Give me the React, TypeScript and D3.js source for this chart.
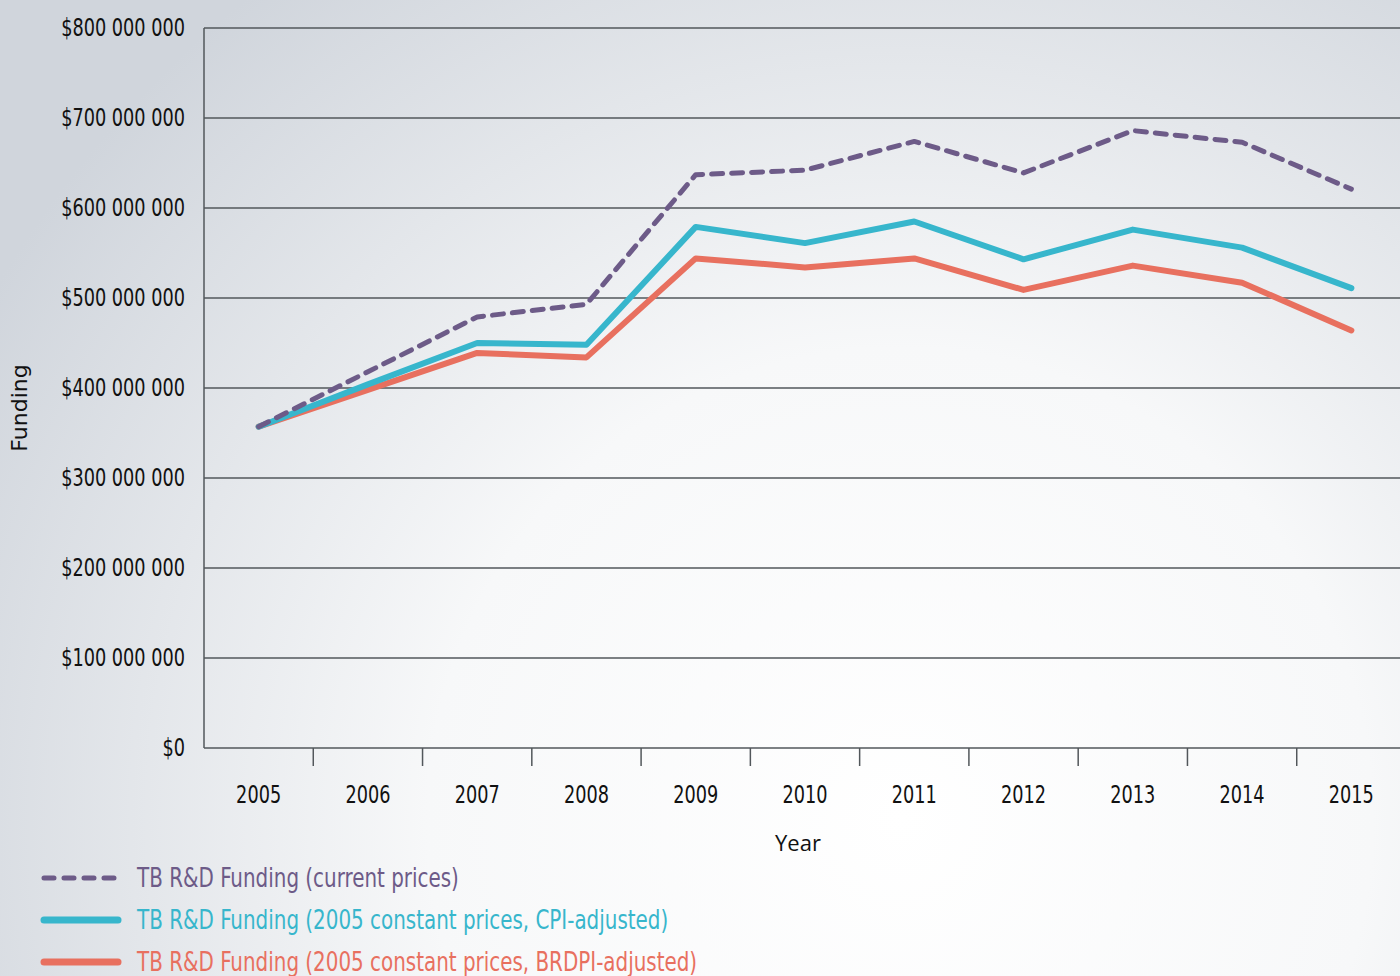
import React, { useRef, useEffect } from "react";
import * as d3 from "d3";

const years = ["2005", "2006", "2007", "2008", "2009", "2010", "2011", "2012", "2013", "2014", "2015"];
// values in millions USD
const currentPrices = [357, 418, 479, 493, 637, 642, 674, 639, 686, 673, 621];
const cpiAdjusted = [357, 404, 450, 448, 579, 561, 585, 543, 576, 556, 511];
const brdpiAdjusted = [357, 398, 439, 434, 544, 534, 544, 509, 536, 517, 464];
const yTicks = [0, 100, 200, 300, 400, 500, 600, 700, 800];

const seriesNames = [
  "TB R&D Funding (current prices)",
  "TB R&D Funding (2005 constant prices, CPI-adjusted)",
  "TB R&D Funding (2005 constant prices, BRDPI-adjusted)",
];
const seriesColors = ["#6d5b88", "#37b6cc", "#e8705f"];

const narrow = "'Liberation Sans Narrow', 'DejaVu Sans Condensed', sans-serif";
const squeeze = 0.82; // condensed look

const App = () => {
  const svgRef = useRef(null);

  useEffect(() => {
    const width = 1400;
    const height = 976;
    const margin = { top: 28, right: -6, bottom: 228, left: 204 };
    const svg = d3.select(svgRef.current);
    svg.selectAll("*").remove();

    const defs = svg.append("defs");
    const grad = defs
      .append("radialGradient")
      .attr("id", "bg")
      .attr("gradientUnits", "userSpaceOnUse")
      .attr("cx", 900)
      .attr("cy", 820)
      .attr("r", 1050);
    grad.append("stop").attr("offset", "0%").attr("stop-color", "#ffffff");
    grad.append("stop").attr("offset", "45%").attr("stop-color", "#f7f8f9");
    grad.append("stop").attr("offset", "100%").attr("stop-color", "#d0d5dc");

    svg.append("rect").attr("width", width).attr("height", height).attr("fill", "url(#bg)");

    const x = d3
      .scaleBand()
      .domain(years)
      .range([margin.left, width - margin.right]);
    const y = d3
      .scaleLinear()
      .domain([0, 800])
      .range([height - margin.bottom, margin.top]);

    // squeezed text helper
    const label = (g, tx, ty, txt, anchor, size, color) =>
      g
        .append("text")
        .attr("transform", `translate(${tx},${ty}) scale(${squeeze},1)`)
        .attr("dy", "0.35em")
        .attr("text-anchor", anchor)
        .style("font-family", narrow)
        .style("font-size", size)
        .attr("fill", color)
        .text(txt);

    // grid lines
    svg
      .append("g")
      .selectAll("line")
      .data(yTicks)
      .join("line")
      .attr("x1", margin.left)
      .attr("x2", width)
      .attr("y1", (d) => y(d))
      .attr("y2", (d) => y(d))
      .attr("stroke", "#52575b")
      .attr("stroke-width", 1.5);

    // left axis line
    svg
      .append("line")
      .attr("x1", margin.left)
      .attr("x2", margin.left)
      .attr("y1", y(800))
      .attr("y2", y(0))
      .attr("stroke", "#52575b")
      .attr("stroke-width", 1.5);

    // y tick labels
    const fmt = (d) => (d === 0 ? "$0" : "$" + d + " 000 000");
    const yg = svg.append("g");
    yTicks.forEach((d) => label(yg, 185, y(d), fmt(d), "end", "24px", "#111"));

    // x ticks between bands
    svg
      .append("g")
      .selectAll("line")
      .data(years.slice(1))
      .join("line")
      .attr("x1", (d) => x(d))
      .attr("x2", (d) => x(d))
      .attr("y1", y(0))
      .attr("y2", y(0) + 18)
      .attr("stroke", "#52575b")
      .attr("stroke-width", 1.5);

    const xg = svg.append("g");
    years.forEach((d) => label(xg, x(d) + x.bandwidth() / 2, 795, d, "middle", "24px", "#111"));

    svg
      .append("text")
      .attr("x", 798)
      .attr("y", 843)
      .attr("dy", "0.35em")
      .attr("text-anchor", "middle")
      .style("font-family", "'Open Sans', sans-serif")
      .style("font-size", "22px")
      .attr("fill", "#111")
      .text("Year");

    svg
      .append("text")
      .attr("transform", "translate(27, 408) rotate(-90)")
      .attr("text-anchor", "middle")
      .style("font-family", "'DejaVu Sans', sans-serif")
      .style("font-size", "22px")
      .attr("fill", "#111")
      .text("Funding");

    const line = d3
      .line()
      .x((d, i) => x(years[i]) + x.bandwidth() / 2)
      .y((d) => y(d));

    const allSeries = [currentPrices, cpiAdjusted, brdpiAdjusted];
    const styles = [
      { w: 5, dash: "11,9" },
      { w: 6, dash: null },
      { w: 6, dash: null },
    ];
    // draw red, cyan, then dashed on top
    [2, 1, 0].forEach((k) => {
      svg
        .append("path")
        .datum(allSeries[k])
        .attr("fill", "none")
        .attr("stroke", seriesColors[k])
        .attr("stroke-width", styles[k].w)
        .attr("stroke-linecap", "round")
        .attr("stroke-linejoin", "round")
        .attr("stroke-dasharray", styles[k].dash)
        .attr("d", line);
    });

    // legend
    const legend = svg.append("g");
    const ly = [878, 920, 962];
    seriesNames.forEach((name, k) => {
      legend
        .append("line")
        .attr("x1", 44)
        .attr("x2", 118)
        .attr("y1", ly[k])
        .attr("y2", ly[k])
        .attr("stroke", seriesColors[k])
        .attr("stroke-width", k === 0 ? 5 : 7)
        .attr("stroke-linecap", "round")
        .attr("stroke-dasharray", k === 0 ? "10,10" : null);
      label(legend, 137, ly[k], name, "start", "27px", seriesColors[k]);
    });
  }, []);

  return (
    <svg
      ref={svgRef}
      width={1400}
      height={976}
      style={{ position: "absolute", left: 0, top: 0 }}
    ></svg>
  );
};

export default App;
